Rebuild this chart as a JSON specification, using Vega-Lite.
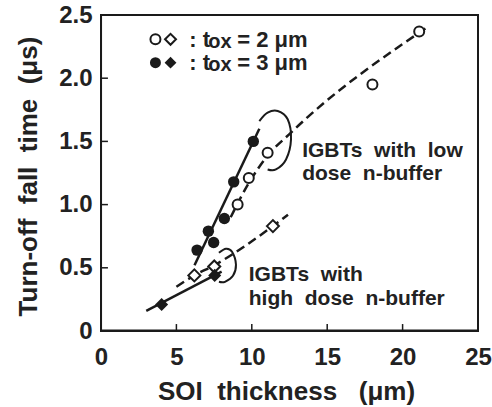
{
  "$schema": "https://vega.github.io/schema/vega-lite/v6.json",
  "width": 377,
  "height": 316,
  "autosize": {"type": "none"},
  "padding": {"left": 101, "top": 15, "right": 14, "bottom": 76},
  "background": "white",
  "config": {
    "view": {"stroke": "#1a1a1a", "strokeWidth": 2},
    "axis": {
      "grid": false,
      "domain": false,
      "ticks": false,
      "labelFont": "Liberation Sans",
      "labelFontWeight": "bold",
      "labelFontSize": 24,
      "labelColor": "#222",
      "titleFont": "Liberation Sans",
      "titleFontWeight": "bold",
      "titleFontSize": 26,
      "titleColor": "#222"
    }
  },
  "datasets": {
    "box": [
      {"o": 1, "x": 0.003, "y": 0.003},
      {"o": 2, "x": 25, "y": 0.003},
      {"o": 3, "x": 25, "y": 2.5},
      {"o": 4, "x": 0.003, "y": 2.5},
      {"o": 5, "x": 0.003, "y": 0.003}
    ],
    "tickmarks": [
      {"t": "x5", "o": 1, "x": 5, "y": 0.003}, {"t": "x5", "o": 2, "x": 5, "y": 0.055},
      {"t": "x10", "o": 1, "x": 10, "y": 0.003}, {"t": "x10", "o": 2, "x": 10, "y": 0.055},
      {"t": "x15", "o": 1, "x": 15, "y": 0.003}, {"t": "x15", "o": 2, "x": 15, "y": 0.055},
      {"t": "x20", "o": 1, "x": 20, "y": 0.003}, {"t": "x20", "o": 2, "x": 20, "y": 0.055},
      {"t": "y05", "o": 1, "x": 0.003, "y": 0.5}, {"t": "y05", "o": 2, "x": 0.46, "y": 0.5},
      {"t": "y10", "o": 1, "x": 0.003, "y": 1.0}, {"t": "y10", "o": 2, "x": 0.46, "y": 1.0},
      {"t": "y15", "o": 1, "x": 0.003, "y": 1.5}, {"t": "y15", "o": 2, "x": 0.46, "y": 1.5},
      {"t": "y20", "o": 1, "x": 0.003, "y": 2.0}, {"t": "y20", "o": 2, "x": 0.46, "y": 2.0}
    ],
    "pts": [
      {"kind": "open_circle", "x": 21.1, "y": 2.37},
      {"kind": "open_circle", "x": 18.0, "y": 1.95},
      {"kind": "open_circle", "x": 11.05, "y": 1.41},
      {"kind": "open_circle", "x": 9.8, "y": 1.21},
      {"kind": "open_circle", "x": 9.06, "y": 1.0},
      {"kind": "filled_circle", "x": 10.1, "y": 1.5},
      {"kind": "filled_circle", "x": 8.8, "y": 1.18},
      {"kind": "filled_circle", "x": 8.18, "y": 0.89},
      {"kind": "filled_circle", "x": 7.12, "y": 0.79},
      {"kind": "filled_circle", "x": 7.47, "y": 0.7},
      {"kind": "filled_circle", "x": 6.37, "y": 0.64},
      {"kind": "open_diamond", "x": 11.4, "y": 0.83},
      {"kind": "open_diamond", "x": 7.51, "y": 0.51},
      {"kind": "open_diamond", "x": 6.19, "y": 0.44},
      {"kind": "filled_diamond", "x": 7.54, "y": 0.44},
      {"kind": "filled_diamond", "x": 4.02, "y": 0.21}
    ],
    "solid": [
      {"line": "low", "x": 6.2, "y": 0.52},
      {"line": "low", "x": 10.5, "y": 1.6},
      {"line": "high", "x": 3.0, "y": 0.16},
      {"line": "high", "x": 8.0, "y": 0.47}
    ],
    "dashed": [
      {"line": "low", "x": 8.6, "y": 0.9},
      {"line": "low", "x": 9.8, "y": 1.17},
      {"line": "low", "x": 11.0, "y": 1.38},
      {"line": "low", "x": 12.6, "y": 1.57},
      {"line": "low", "x": 21.6, "y": 2.4},
      {"line": "high", "x": 5.0, "y": 0.35},
      {"line": "high", "x": 6.2, "y": 0.44},
      {"line": "high", "x": 7.5, "y": 0.52},
      {"line": "high", "x": 11.4, "y": 0.83},
      {"line": "high", "x": 12.4, "y": 0.92}
    ],
    "arcs": [
      {"arc": "low", "o": 1, "x": 10.5, "y": 1.661},
      {"arc": "low", "o": 2, "x": 11.05, "y": 1.728},
      {"arc": "low", "o": 3, "x": 11.72, "y": 1.741},
      {"arc": "low", "o": 4, "x": 12.38, "y": 1.675},
      {"arc": "low", "o": 5, "x": 12.6, "y": 1.516},
      {"arc": "low", "o": 6, "x": 12.27, "y": 1.357},
      {"arc": "low", "o": 7, "x": 11.6, "y": 1.278},
      {"arc": "low", "o": 8, "x": 11.05, "y": 1.278},
      {"arc": "high", "o": 1, "x": 7.82, "y": 0.619},
      {"arc": "high", "o": 2, "x": 8.29, "y": 0.651},
      {"arc": "high", "o": 3, "x": 8.69, "y": 0.627},
      {"arc": "high", "o": 4, "x": 8.95, "y": 0.524},
      {"arc": "high", "o": 5, "x": 8.75, "y": 0.437},
      {"arc": "high", "o": 6, "x": 8.22, "y": 0.389},
      {"arc": "high", "o": 7, "x": 7.82, "y": 0.389}
    ],
    "legendpts": [
      {"kind": "open_circle", "x": 3.61, "y": 2.308},
      {"kind": "open_diamond", "x": 4.61, "y": 2.308},
      {"kind": "filled_circle", "x": 3.61, "y": 2.123},
      {"kind": "filled_diamond", "x": 4.61, "y": 2.123}
    ],
    "legendtext": [
      {"label": ": t", "sub": "ox", "rest": "= 2 μm", "x": 5.85, "y": 2.249},
      {"label": ": t", "sub": "ox", "rest": "= 3 μm", "x": 5.85, "y": 2.065}
    ],
    "notes": [
      {"text": "IGBTs\u00a0\u00a0with\u00a0\u00a0low", "x": 13.34, "y": 1.379},
      {"text": "dose\u00a0\u00a0n-buffer", "x": 13.34, "y": 1.195},
      {"text": "IGBTs\u00a0\u00a0with", "x": 9.8, "y": 0.396},
      {"text": "high\u00a0\u00a0dose\u00a0\u00a0n-buffer", "x": 9.8, "y": 0.206}
    ]
  },
  "encoding": {
    "x": {
      "field": "x", "type": "quantitative",
      "scale": {"domain": [0, 25], "nice": false},
      "axis": {
        "title": "SOI\u00a0\u00a0thickness\u00a0\u00a0\u00a0(μm)",
        "values": [0, 5, 10, 15, 20, 25],
        "labelFlush": false,
        "labelPadding": 14,
        "labelBaseline": "top",
        "titleX": 185, "titleY": 68,
        "titleBaseline": "alphabetic", "titleAnchor": "middle", "titleAlign": "center"
      }
    },
    "y": {
      "field": "y", "type": "quantitative",
      "scale": {"domain": [0, 2.5], "nice": false},
      "axis": {
        "title": "Turn-off\u00a0\u00a0fall\u00a0\u00a0time\u00a0\u00a0(μs)",
        "values": [0, 0.5, 1, 1.5, 2, 2.5],
        "labelFlush": false,
        "labelExpr": "datum.value == 0 ? '0' : format(datum.value, '.1f')",
        "labelPadding": 9,
        "titleX": -73, "titleY": 161,
        "titleAngle": -90, "titleBaseline": "middle", "titleAlign": "center"
      }
    }
  },
  "layer": [
    {
      "data": {"name": "box"},
      "mark": {"type": "line", "color": "#1a1a1a", "strokeWidth": 2},
      "encoding": {"order": {"field": "o", "type": "quantitative"}}
    },
    {
      "data": {"name": "tickmarks"},
      "mark": {"type": "line", "color": "#1a1a1a", "strokeWidth": 1.5},
      "encoding": {"detail": {"field": "t"}, "order": {"field": "o", "type": "quantitative"}}
    },
    {
      "data": {"name": "solid"},
      "mark": {"type": "line", "color": "#1a1a1a", "strokeWidth": 2.5},
      "encoding": {"detail": {"field": "line"}}
    },
    {
      "data": {"name": "dashed"},
      "mark": {"type": "line", "color": "#1a1a1a", "strokeWidth": 2.5, "strokeDash": [9, 5], "interpolate": "monotone"},
      "encoding": {"detail": {"field": "line"}}
    },
    {
      "data": {"name": "arcs"},
      "mark": {"type": "line", "color": "#1a1a1a", "strokeWidth": 2, "interpolate": "cardinal"},
      "encoding": {"detail": {"field": "arc"}, "order": {"field": "o", "type": "quantitative"}}
    },
    {
      "data": {"name": "pts"},
      "transform": [{"filter": "datum.kind == 'open_circle'"}],
      "mark": {"type": "point", "shape": "circle", "size": 100, "filled": true, "fill": "white", "stroke": "#1a1a1a", "strokeWidth": 2, "opacity": 1}
    },
    {
      "data": {"name": "pts"},
      "transform": [{"filter": "datum.kind == 'filled_circle'"}],
      "mark": {"type": "point", "shape": "circle", "size": 130, "filled": true, "color": "#1a1a1a", "opacity": 1}
    },
    {
      "data": {"name": "pts"},
      "transform": [{"filter": "datum.kind == 'open_diamond'"}],
      "mark": {"type": "point", "shape": "diamond", "size": 144, "filled": true, "fill": "white", "stroke": "#1a1a1a", "strokeWidth": 2, "opacity": 1}
    },
    {
      "data": {"name": "pts"},
      "transform": [{"filter": "datum.kind == 'filled_diamond'"}],
      "mark": {"type": "point", "shape": "diamond", "size": 170, "filled": true, "color": "#1a1a1a", "opacity": 1}
    },
    {
      "data": {"name": "legendpts"},
      "transform": [{"filter": "datum.kind == 'open_circle'"}],
      "mark": {"type": "point", "shape": "circle", "size": 100, "filled": true, "fill": "white", "stroke": "#1a1a1a", "strokeWidth": 2, "opacity": 1}
    },
    {
      "data": {"name": "legendpts"},
      "transform": [{"filter": "datum.kind == 'open_diamond'"}],
      "mark": {"type": "point", "shape": "diamond", "size": 120, "filled": true, "fill": "white", "stroke": "#1a1a1a", "strokeWidth": 2, "opacity": 1}
    },
    {
      "data": {"name": "legendpts"},
      "transform": [{"filter": "datum.kind == 'filled_circle'"}],
      "mark": {"type": "point", "shape": "circle", "size": 120, "filled": true, "color": "#1a1a1a", "opacity": 1}
    },
    {
      "data": {"name": "legendpts"},
      "transform": [{"filter": "datum.kind == 'filled_diamond'"}],
      "mark": {"type": "point", "shape": "diamond", "size": 140, "filled": true, "color": "#1a1a1a", "opacity": 1}
    },
    {
      "data": {"name": "legendtext"},
      "mark": {"type": "text", "align": "left", "baseline": "alphabetic", "font": "Liberation Sans", "fontSize": 22, "fontWeight": "bold", "color": "#222"},
      "encoding": {"text": {"field": "label"}}
    },
    {
      "data": {"name": "legendtext"},
      "mark": {"type": "text", "align": "left", "baseline": "alphabetic", "font": "Liberation Sans", "fontSize": 20, "fontWeight": "bold", "color": "#222", "dx": 19, "dy": 1},
      "encoding": {"text": {"field": "sub"}}
    },
    {
      "data": {"name": "legendtext"},
      "mark": {"type": "text", "align": "left", "baseline": "alphabetic", "font": "Liberation Sans", "fontSize": 22, "fontWeight": "bold", "color": "#222", "dx": 48},
      "encoding": {"text": {"field": "rest"}}
    },
    {
      "data": {"name": "notes"},
      "mark": {"type": "text", "align": "left", "baseline": "alphabetic", "font": "Liberation Sans", "fontSize": 21, "fontWeight": "bold", "color": "#222"},
      "encoding": {"text": {"field": "text"}}
    }
  ]
}
